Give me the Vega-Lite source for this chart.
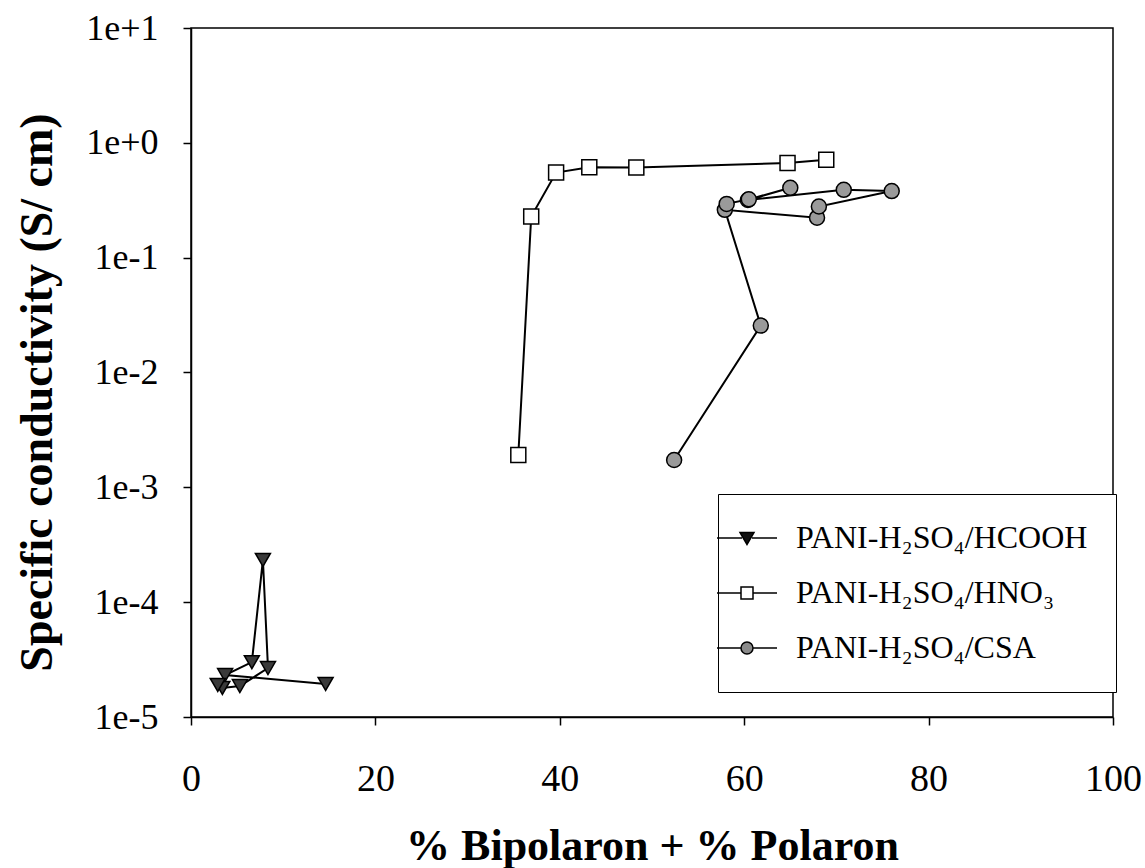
{
  "$schema": "https://vega.github.io/schema/vega-lite/v6.json",
  "width": 922,
  "height": 689,
  "autosize": "none",
  "padding": {"left": 191, "top": 28, "right": 32, "bottom": 151},
  "background": "white",
  "config": {
    "font": "Liberation Serif",
    "view": {"stroke": "black", "strokeWidth": 1.5},
    "axis": {"grid": false, "domainColor": "black", "tickColor": "black", "labelColor": "black", "titleColor": "black", "domainWidth": 1.5, "tickWidth": 1.5, "labelFont": "Liberation Serif", "titleFont": "Liberation Serif"}
  },
  "data": {
    "values": [
      {"series": "PANI-H₂SO₄/HCOOH", "ord": 1, "pct": 14.6, "sigma": 0.0000194},
      {"series": "PANI-H₂SO₄/HCOOH", "ord": 2, "pct": 3.7, "sigma": 0.0000232},
      {"series": "PANI-H₂SO₄/HCOOH", "ord": 3, "pct": 6.6, "sigma": 0.0000300},
      {"series": "PANI-H₂SO₄/HCOOH", "ord": 4, "pct": 7.8, "sigma": 0.000233},
      {"series": "PANI-H₂SO₄/HCOOH", "ord": 5, "pct": 8.35, "sigma": 0.0000267},
      {"series": "PANI-H₂SO₄/HCOOH", "ord": 6, "pct": 5.3, "sigma": 0.0000186},
      {"series": "PANI-H₂SO₄/HCOOH", "ord": 7, "pct": 3.4, "sigma": 0.0000179},
      {"series": "PANI-H₂SO₄/HCOOH", "ord": 8, "pct": 2.9, "sigma": 0.0000190},
      {"series": "PANI-H₂SO₄/HNO₃", "ord": 1, "pct": 35.5, "sigma": 0.00191},
      {"series": "PANI-H₂SO₄/HNO₃", "ord": 2, "pct": 36.9, "sigma": 0.228},
      {"series": "PANI-H₂SO₄/HNO₃", "ord": 3, "pct": 39.6, "sigma": 0.551},
      {"series": "PANI-H₂SO₄/HNO₃", "ord": 4, "pct": 43.2, "sigma": 0.614},
      {"series": "PANI-H₂SO₄/HNO₃", "ord": 5, "pct": 48.3, "sigma": 0.61},
      {"series": "PANI-H₂SO₄/HNO₃", "ord": 6, "pct": 64.7, "sigma": 0.666},
      {"series": "PANI-H₂SO₄/HNO₃", "ord": 7, "pct": 68.9, "sigma": 0.711},
      {"series": "PANI-H₂SO₄/CSA", "ord": 1, "pct": 52.4, "sigma": 0.00173},
      {"series": "PANI-H₂SO₄/CSA", "ord": 2, "pct": 61.8, "sigma": 0.0256},
      {"series": "PANI-H₂SO₄/CSA", "ord": 3, "pct": 57.9, "sigma": 0.261},
      {"series": "PANI-H₂SO₄/CSA", "ord": 4, "pct": 67.9, "sigma": 0.223},
      {"series": "PANI-H₂SO₄/CSA", "ord": 5, "pct": 68.1, "sigma": 0.279},
      {"series": "PANI-H₂SO₄/CSA", "ord": 6, "pct": 76.0, "sigma": 0.38},
      {"series": "PANI-H₂SO₄/CSA", "ord": 7, "pct": 70.8, "sigma": 0.39},
      {"series": "PANI-H₂SO₄/CSA", "ord": 8, "pct": 60.4, "sigma": 0.318},
      {"series": "PANI-H₂SO₄/CSA", "ord": 9, "pct": 65.0, "sigma": 0.406},
      {"series": "PANI-H₂SO₄/CSA", "ord": 10, "pct": 60.5, "sigma": 0.322},
      {"series": "PANI-H₂SO₄/CSA", "ord": 11, "pct": 58.1, "sigma": 0.294}
    ]
  },
  "encoding": {
    "x": {
      "field": "pct", "type": "quantitative",
      "scale": {"domain": [0, 100], "nice": false},
      "axis": {"values": [0, 20, 40, 60, 80, 100], "title": "% Bipolaron +  % Polaron", "labelFontSize": 38, "titleFontSize": 44, "titleFontWeight": "bold", "tickSize": 8, "labelPadding": 35, "titlePadding": 26, "labelFlush": false}
    },
    "y": {
      "field": "sigma", "type": "quantitative",
      "scale": {"type": "log", "domain": [0.00001, 10], "nice": false},
      "axis": {"values": [0.00001, 0.0001, 0.001, 0.01, 0.1, 1, 10], "labelExpr": "'1e' + (round(log(datum.value)/LN10) >= 0 ? '+' : '') + round(log(datum.value)/LN10)", "title": "Specific conductivity (S/ cm)", "labelFontSize": 36, "titleFontSize": 46, "titleFontWeight": "bold", "tickSize": 8, "labelPadding": 25, "titlePadding": 24, "titleY": 364}
    }
  },
  "resolve": {"scale": {"shape": "independent", "fill": "independent"}},
  "layer": [
    {
      "mark": {"type": "line", "color": "black", "strokeWidth": 2},
      "encoding": {"detail": {"field": "series"}, "order": {"field": "ord", "type": "quantitative"}}
    },
    {
      "mark": {"type": "point", "filled": true, "stroke": "black", "strokeWidth": 1.5, "size": 225, "opacity": 1},
      "encoding": {
        "shape": {
          "field": "series", "type": "nominal",
          "scale": {"domain": ["PANI-H₂SO₄/HCOOH", "PANI-H₂SO₄/HNO₃", "PANI-H₂SO₄/CSA"], "range": ["triangle-down", "square", "circle"]},
          "legend": null
        },
        "fill": {
          "field": "series", "type": "nominal",
          "scale": {"domain": ["PANI-H₂SO₄/HCOOH", "PANI-H₂SO₄/HNO₃", "PANI-H₂SO₄/CSA"], "range": ["#3a3a3a", "#ffffff", "#9a9a9a"]},
          "legend": null
        }
      }
    },
    {
      "mark": {"type": "point", "filled": true, "stroke": "black", "strokeWidth": 1.5, "size": 0, "opacity": 1},
      "encoding": {
        "shape": {
          "field": "series", "type": "nominal",
          "scale": {"domain": ["PANI-H₂SO₄/HCOOH", "PANI-H₂SO₄/HNO₃", "PANI-H₂SO₄/CSA"], "range": ["M-9,0L-4,0M-2,0L3,0M-4.4,-1.1L-1.6,-1.1L-3,1.3Z", "M-9,0L-4.2,0M-1.8,0L3,0M-4.2,-1.2L-1.8,-1.2L-1.8,1.2L-4.2,1.2Z", "M-9,0L-4.2,0M-1.8,0L3,0M-4.2,0A1.2,1.2 0 1,0 -1.8,0A1.2,1.2 0 1,0 -4.2,0Z"]},
          "legend": {
            "orient": "none", "legendX": 527, "legendY": 466, "title": null,
            "strokeColor": "black", "fillColor": "white", "padding": 28,
            "labelFontSize": 32, "labelFont": "Liberation Serif", "labelColor": "black", "labelLimit": 500,
            "symbolSize": 100, "symbolStrokeWidth": 1.5, "symbolOpacity": 1, "rowPadding": 23, "labelOffset": 18
          }
        },
        "fill": {
          "field": "series", "type": "nominal",
          "scale": {"domain": ["PANI-H₂SO₄/HCOOH", "PANI-H₂SO₄/HNO₃", "PANI-H₂SO₄/CSA"], "range": ["#111111", "#ffffff", "#8a8a8a"]},
          "legend": null
        }
      }
    }
  ]
}
